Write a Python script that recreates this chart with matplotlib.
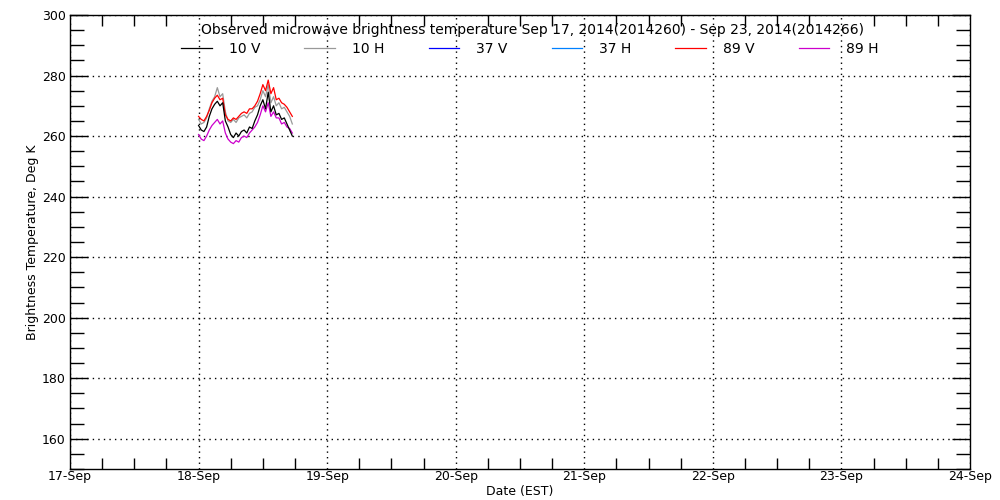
import numpy as np
import matplotlib.pyplot as plt
from matplotlib.ticker import MultipleLocator

plt.rcParams['font.family'] = 'DejaVu Sans'
plt.rcParams['font.size'] = 9

# hours after 18-Sep 00:00 EST
hours = [0, 0.5, 1, 1.5, 2, 2.5, 3, 3.5, 4, 4.5, 5, 5.5, 6, 6.5, 7, 7.5, 8, 8.5,
         9, 9.5, 10, 10.5, 11, 11.5, 12, 12.5, 13, 13.5, 14, 14.5, 15, 15.5, 16, 16.5, 17, 17.5]

tb_10v = [263.5, 262, 261.5, 263, 266.5, 269, 270.5, 271.5, 270, 271, 265, 263, 260.5, 259.5,
          261, 260, 261.5, 262, 261, 263, 262.5, 265, 267, 270, 272, 269, 274.5, 268, 270, 267,
          267.5, 265.5, 266, 264, 262, 260]
tb_10h = [265.5, 264, 264.5, 266, 269, 271.5, 273, 276, 273, 274, 268, 265, 264.5, 265.5,
          264.5, 266, 266.5, 267, 266, 267.5, 268, 269.5, 270, 272, 275, 273, 277, 271, 273, 270,
          271, 269, 269.5, 268, 266.5, 264]
tb_37v = []
tb_37h = []
tb_89v = [266.5, 265.5, 265, 266.5, 268.5, 271, 272.5, 273.5, 272, 272.5, 267, 265.5, 265, 266,
          265.5, 266.5, 267.5, 268, 267.5, 269, 269, 270, 271.5, 274, 277, 275, 278.5, 274, 276,
          272, 272.5, 271, 270.5, 269.5, 268, 266.5]
tb_89h = [260.5, 259, 258.5, 260, 262, 263.5, 264.5, 265.5, 264, 265, 261, 259, 258, 257.5,
          258.5, 258, 259.5, 260, 259.5, 261, 262, 263, 264.5, 267, 270, 268, 271, 266.5, 268,
          266, 266, 264, 264.5, 263, 262.5, 261]

day_labels = ['17-Sep', '18-Sep', '19-Sep', '20-Sep', '21-Sep', '22-Sep', '23-Sep', '24-Sep']

# x in days since 17-Sep 00:00
x = 1 + np.array(hours) / 24.0

fig = plt.figure(figsize=(10, 5), dpi=100)
ax = fig.add_axes([0.07, 0.062, 0.90, 0.908])

ax.plot(x, tb_10v, color='black', lw=0.9, label='10 V', zorder=5)
ax.plot(x, tb_10h, color='#999999', lw=0.9, label='10 H', zorder=2)
ax.plot(x[:len(tb_37v)], tb_37v, color='#0000ff', lw=0.9, label='37 V')
ax.plot(x[:len(tb_37h)], tb_37h, color='#0080ff', lw=0.9, label='37 H')
ax.plot(x, tb_89v, color='#ff0000', lw=0.9, label='89 V', zorder=3)
ax.plot(x, tb_89h, color='#cc00cc', lw=0.9, label='89 H', zorder=4)

ax.set_xlim(0, 7)
ax.set_ylim(150, 300)
ax.set_xticks(range(8))
ax.set_xticklabels(day_labels)
ax.xaxis.set_minor_locator(MultipleLocator(0.25))
ax.set_yticks(range(160, 301, 20))
ax.yaxis.set_minor_locator(MultipleLocator(5))

ax.tick_params(axis='x', which='major', direction='in', length=0, pad=1, top=True)
ax.tick_params(axis='x', which='minor', direction='in', length=8, width=1, top=True)
ax.tick_params(axis='y', which='major', direction='in', length=13, width=1, right=True, pad=3)
ax.tick_params(axis='y', which='minor', direction='in', length=10, width=1, right=True)
ax.grid(True, which='major', color='black', linestyle=(0, (1, 3)), lw=1)

for s in ax.spines.values():
    s.set_linewidth(1)

ax.set_xlabel('Date (EST)', labelpad=1)
ax.set_ylabel('Brightness Temperature, Deg K', labelpad=2)

ax.text(0.514, 0.967, 'Observed microwave brightness temperature Sep 17, 2014(2014260) - Sep 23, 2014(2014266)',
        transform=ax.transAxes, ha='center', va='center', fontsize=10)
leg = ax.legend(loc='center', bbox_to_anchor=(0.511, 0.925), ncol=6, frameon=False,
                handlelength=2.2, columnspacing=3.2, handletextpad=1.2, fontsize=10)

fig.savefig('out.png', dpi=100)
